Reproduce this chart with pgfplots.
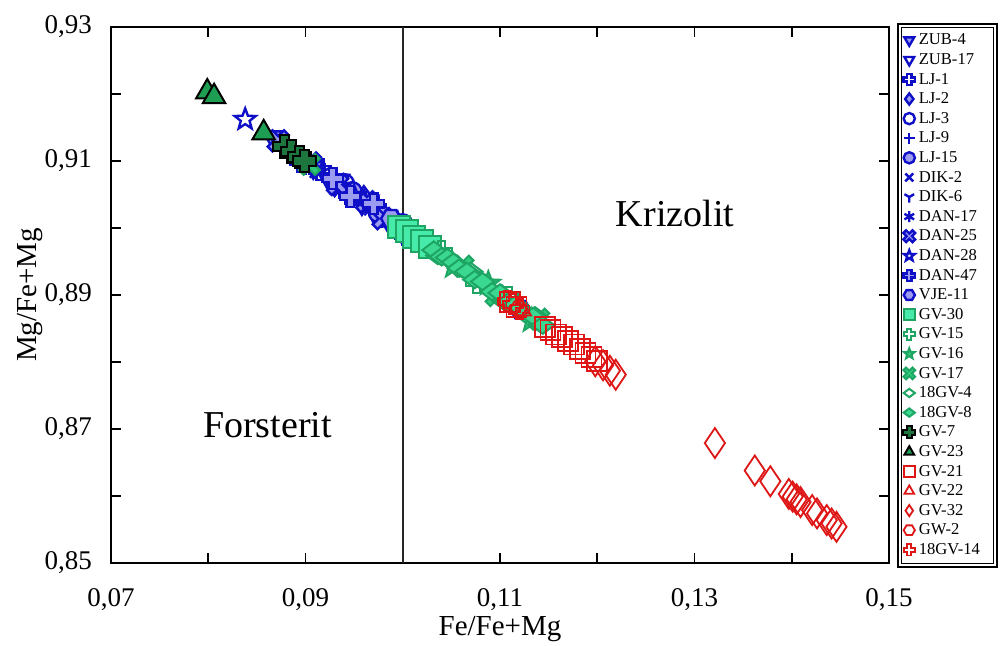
\documentclass[border=0pt]{standalone}
\usepackage{fontspec}
\setmainfont{Liberation Serif}
\usepackage{pgfplots}
\pgfplotsset{compat=1.18}

\definecolor{bl}{RGB}{15,15,200}
\definecolor{bll}{RGB}{155,155,240}
\definecolor{gr}{RGB}{30,165,100}
\definecolor{grA}{RGB}{70,235,170}
\definecolor{grB}{RGB}{45,200,120}
\definecolor{grC}{RGB}{58,216,144}
\definecolor{dkg}{RGB}{28,118,62}
\definecolor{gtri}{RGB}{30,158,82}
\definecolor{rd}{RGB}{222,22,22}

\newdimen\mka \newdimen\mkr
\newcommand\crosspath{%
 \pgfpathmoveto{\pgfqpoint{-\mka}{\mkr}}%
 \pgfpathlineto{\pgfqpoint{\mka}{\mkr}}%
 \pgfpathlineto{\pgfqpoint{\mka}{\mka}}%
 \pgfpathlineto{\pgfqpoint{\mkr}{\mka}}%
 \pgfpathlineto{\pgfqpoint{\mkr}{-\mka}}%
 \pgfpathlineto{\pgfqpoint{\mka}{-\mka}}%
 \pgfpathlineto{\pgfqpoint{\mka}{-\mkr}}%
 \pgfpathlineto{\pgfqpoint{-\mka}{-\mkr}}%
 \pgfpathlineto{\pgfqpoint{-\mka}{-\mka}}%
 \pgfpathlineto{\pgfqpoint{-\mkr}{-\mka}}%
 \pgfpathlineto{\pgfqpoint{-\mkr}{\mka}}%
 \pgfpathlineto{\pgfqpoint{-\mka}{\mka}}%
 \pgfpathclose}
\newcommand\starpath{%
 \pgfpathmoveto{\pgfpointpolar{90}{\pgfplotmarksize}}%
 \pgfpathlineto{\pgfpointpolar{126}{0.42\pgfplotmarksize}}%
 \pgfpathlineto{\pgfpointpolar{162}{\pgfplotmarksize}}%
 \pgfpathlineto{\pgfpointpolar{198}{0.42\pgfplotmarksize}}%
 \pgfpathlineto{\pgfpointpolar{234}{\pgfplotmarksize}}%
 \pgfpathlineto{\pgfpointpolar{270}{0.42\pgfplotmarksize}}%
 \pgfpathlineto{\pgfpointpolar{306}{\pgfplotmarksize}}%
 \pgfpathlineto{\pgfpointpolar{342}{0.42\pgfplotmarksize}}%
 \pgfpathlineto{\pgfpointpolar{18}{\pgfplotmarksize}}%
 \pgfpathlineto{\pgfpointpolar{54}{0.42\pgfplotmarksize}}%
 \pgfpathclose}
\newcommand\hexpath{%
 \pgfpathmoveto{\pgfpointpolar{0}{\pgfplotmarksize}}%
 \pgfpathlineto{\pgfpointpolar{60}{\pgfplotmarksize}}%
 \pgfpathlineto{\pgfpointpolar{120}{\pgfplotmarksize}}%
 \pgfpathlineto{\pgfpointpolar{180}{\pgfplotmarksize}}%
 \pgfpathlineto{\pgfpointpolar{240}{\pgfplotmarksize}}%
 \pgfpathlineto{\pgfpointpolar{300}{\pgfplotmarksize}}%
 \pgfpathclose}
\pgfdeclareplotmark{crossout}{\mkr=\pgfplotmarksize \mka=0.36\pgfplotmarksize \crosspath\pgfusepathqstroke}
\pgfdeclareplotmark{crossfill}{\mkr=\pgfplotmarksize \mka=0.36\pgfplotmarksize \crosspath\pgfusepathqfillstroke}
\pgfdeclareplotmark{blob}{\pgfsetcornersarced{\pgfpoint{0.8pt}{0.8pt}}\mkr=1.05\pgfplotmarksize \mka=0.42\pgfplotmarksize \crosspath\pgfusepathqfillstroke}
\pgfdeclareplotmark{xfill}{\pgftransformrotate{45}\mkr=1.15\pgfplotmarksize \mka=0.34\pgfplotmarksize \crosspath\pgfusepathqfillstroke}
\pgfdeclareplotmark{starout}{\starpath\pgfusepathqstroke}
\pgfdeclareplotmark{starfill}{\starpath\pgfusepathqfillstroke}
\pgfdeclareplotmark{hexout}{\hexpath\pgfusepathqstroke}
\pgfdeclareplotmark{hexfill}{\hexpath\pgfusepathqfillstroke}

\pgfplotsset{
 mk/.style={only marks, legend image code/.code={\draw[##1] plot coordinates {(0pt,0pt)};}},
 B/.style n args={3}{mk, mark=#1, mark size=#2, mark options={draw=bl, fill=bll, line width=1.2pt, solid, #3}},
 G/.style n args={5}{mk, mark=#1, mark size=#2, mark options={draw=#3, fill=#4, line width=1pt, solid, #5}},
 R/.style n args={3}{mk, mark=#1, mark size=#2, mark options={draw=rd, fill=white, line width=0.9pt, solid, #3}},
}

\begin{document}
\begin{tikzpicture}
\useasboundingbox (-55.5pt,-41.5pt) rectangle (445pt,281.5pt);
\begin{axis}[
 name=ax, at={(0,0)}, anchor=south west,
 scale only axis, width=389pt, height=268pt,
 xmin=0.07, xmax=0.15, ymin=0.85, ymax=0.93,
 xtick={0.07,0.09,0.11,0.13,0.15}, minor xtick={0.08,0.10,0.12,0.14},
 ytick={0.85,0.87,0.89,0.91,0.93}, minor ytick={0.86,0.88,0.90,0.92},
 tick align=inside, xtick pos=both, ytick pos=both,
 major tick length=5pt, minor tick length=5pt,
 every tick/.style={black, line width=0.9pt},
 axis line style={black, line width=0.9pt},
 /pgf/number format/.cd, fixed, fixed zerofill, precision=2, use comma, assume math mode=true,
 /pgfplots/.cd,
 tick label style={font=\fontsize{13.5}{15}\selectfont},
 xticklabel style={anchor=north, yshift=-9pt},
 yticklabel style={anchor=east, xshift=-6pt},
 xlabel={Fe/Fe+Mg}, ylabel={Mg/Fe+Mg},
 every axis x label/.style={at={(rel axis cs:0.5,0)}, yshift=-33pt, anchor=center, font=\fontsize{14.5}{16}\selectfont},
 every axis y label/.style={at={(rel axis cs:0,0.5)}, xshift=-40.5pt, rotate=90, anchor=center, font=\fontsize{14.5}{16}\selectfont},
 legend style={at={(1,1)}, anchor=north west, xshift=4pt, yshift=0pt, draw=none, fill=none,
   font=\fontsize{8.3}{9}\selectfont, inner xsep=3pt, inner ysep=1.5pt, row sep=0pt,
   nodes={inner sep=1pt, inner xsep=1.8pt, text height=6.2pt, text depth=1.6pt}},
 legend cell align=left,
 legend image post style={mark size=2.8pt, line width=0.8pt},
]
\addplot[black!85, line width=0.8pt, forget plot] coordinates {(0.10,0.85) (0.10,0.93)};
% blue group
\addplot[B={triangle*}{5.5pt}{rotate=180}] coordinates {(0.0866,0.9136) (0.0908,0.9090) (0.0935,0.9071) (0.0958,0.9036) (0.0997,0.9006)};
\addlegendentry{ZUB-4}
\addplot[B={triangle}{5.5pt}{rotate=180}] coordinates {(0.0925,0.9069) (0.0965,0.9040) (0.0985,0.9010) (0.1012,0.8992)};
\addlegendentry{ZUB-17}
\addplot[B={crossout}{5.2pt}{}] coordinates {(0.0915,0.9087) (0.0945,0.9051) (0.0972,0.9030) (0.1003,0.8990)};
\addlegendentry{LJ-1}
\addplot[B={diamond*}{5.5pt}{}] coordinates {(0.0930,0.9064) (0.0960,0.9046) (0.0990,0.9004)};
\addlegendentry{LJ-2}
\addplot[B={o}{4.8pt}{}] coordinates {(0.0940,0.9066) (0.0978,0.9016) (0.1000,0.9006)};
\addlegendentry{LJ-3}
\addplot[B={+}{5.2pt}{}] coordinates {(0.0900,0.9094) (0.0920,0.9082) (0.0955,0.9043) (0.0982,0.9020)};
\addlegendentry{LJ-9}
\addplot[B={*}{4.8pt}{}] coordinates {(0.0948,0.9054) (0.0975,0.9023) (0.0993,0.9007) (0.1005,0.8989)};
\addlegendentry{LJ-15}
\addplot[B={x}{5.2pt}{}] coordinates {(0.0890,0.9112) (0.0912,0.9086) (0.0942,0.9060) (0.0968,0.9030)};
\addlegendentry{DIK-2}
\addplot[B={Mercedes star flipped}{5.2pt}{}] coordinates {(0.0922,0.9076) (0.0952,0.9050) (0.0992,0.9014)};
\addlegendentry{DIK-6}
\addplot[B={asterisk}{5.2pt}{}] coordinates {(0.0918,0.9084) (0.0938,0.9060) (0.0962,0.9040) (0.0987,0.9010)};
\addlegendentry{DAN-17}
\addplot[B={xfill}{5pt}{}] coordinates {(0.0872,0.9130) (0.0905,0.9097) (0.0933,0.9065) (0.0963,0.9039) (0.0980,0.9014)};
\addlegendentry{DAN-25}
\addplot[B={starout}{5.5pt}{}] coordinates {(0.0838,0.9162) (0.0950,0.9048) (0.0995,0.9007)};
\addlegendentry{DAN-28}
\addplot[B={crossfill}{5.2pt}{}] coordinates {(0.0895,0.9100) (0.0928,0.9074) (0.0946,0.9047) (0.0970,0.9036) (0.1010,0.8994)};
\addlegendentry{DAN-47}
\addplot[B={hexfill}{5pt}{}] coordinates {(0.0988,0.9014) (0.1002,0.8993) (0.1121,0.8878)};
\addlegendentry{VJE-11}
% green group
\addplot[G={square*}{5.5pt}{gr}{grA}{}] coordinates {(0.0996,0.9002) (0.1004,0.8995) (0.1012,0.8987) (0.1020,0.8981) (0.1028,0.8972)};
\addlegendentry{GV-30}
\addplot[G={crossout}{5.2pt}{gr}{white}{}] coordinates {(0.1040,0.8965) (0.1076,0.8919) (0.1108,0.8897)};
\addlegendentry{GV-15}
\addplot[G={starfill}{6.2pt}{gr}{grB}{}] coordinates {(0.1052,0.8943) (0.1088,0.8917) (0.1132,0.8862)};
\addlegendentry{GV-16}
\addplot[G={xfill}{5pt}{gr}{grB}{}] coordinates {(0.0904,0.9095) (0.1062,0.8943) (0.1096,0.8899) (0.1140,0.8864)};
\addlegendentry{GV-17}
\addplot[G={diamond}{5.8pt}{gr}{white}{rotate=90}] coordinates {(0.1036,0.8959) (0.1070,0.8935) (0.1104,0.8891) (0.1136,0.8869)};
\addlegendentry{18GV-4}
\addplot[G={diamond*}{5.8pt}{gr}{grC}{rotate=90}] coordinates {(0.1032,0.8967) (0.1040,0.8957) (0.1046,0.8956) (0.1052,0.8949) (0.1058,0.8940) (0.1066,0.8935) (0.1074,0.8923) (0.1082,0.8920) (0.1092,0.8905) (0.1100,0.8903) (0.1108,0.8889) (0.1116,0.8886) (0.1126,0.8872) (0.1134,0.8868) (0.1144,0.8855)};
\addlegendentry{18GV-8}
\addplot[G={blob}{5.4pt}{black}{dkg}{}] coordinates {(0.0878,0.9122) (0.0886,0.9114) (0.0894,0.9106) (0.0899,0.9100)};
\addlegendentry{GV-7}
\addplot[G={triangle*}{6.5pt}{black}{gtri}{}] coordinates {(0.0799,0.9203) (0.0806,0.9196) (0.0857,0.9142)};
\addlegendentry{GV-23}
% red group
\addplot[R={square}{5pt}{}] coordinates {(0.1110,0.8889) (0.1117,0.8882) (0.1146,0.8852) (0.1152,0.8848) (0.1158,0.8841) (0.1164,0.8837) (0.1170,0.8831) (0.1176,0.8826) (0.1182,0.8819) (0.1188,0.8814) (0.1194,0.8808) (0.1200,0.8802)};
\addlegendentry{GV-21}
\addplot[R={triangle}{4.5pt}{}] coordinates {(0.1124,0.8876)};
\addlegendentry{GV-22}
\addplot[R={diamond}{7.5pt}{xscale=0.9}] coordinates {(0.1198,0.8801) (0.1206,0.8795) (0.1213,0.8787) (0.1219,0.8781) (0.1321,0.8679) (0.1362,0.8638) (0.1378,0.8622) (0.1397,0.8603) (0.1401,0.8599) (0.1405,0.8595) (0.1409,0.8591) (0.1421,0.8579) (0.1426,0.8574) (0.1436,0.8564) (0.1441,0.8559) (0.1446,0.8554)};
\addlegendentry{GV-32}
\addplot[R={hexout}{4pt}{}] coordinates {(0.1119,0.8880)};
\addlegendentry{GW-2}
\addplot[R={crossout}{5pt}{}] coordinates {(0.1108,0.8891) (0.1113,0.8886) (0.1120,0.8879)};
\addlegendentry{18GV-14}
\node[font=\fontsize{19}{21}\selectfont] at (axis cs:0.128,0.9022) {Krizolit};
\node[font=\fontsize{19}{21}\selectfont] at (axis cs:0.0861,0.8706) {Forsterit};
\end{axis}
\draw[line width=1pt] ([xshift=4.5pt,yshift=1.5pt]ax.north east) rectangle ([xshift=54pt,yshift=-2pt]ax.south east);
\draw[line width=0.45pt] ([xshift=6.3pt,yshift=-0.3pt]ax.north east) rectangle ([xshift=52.2pt,yshift=-0.2pt]ax.south east);
\end{tikzpicture}
\end{document}
